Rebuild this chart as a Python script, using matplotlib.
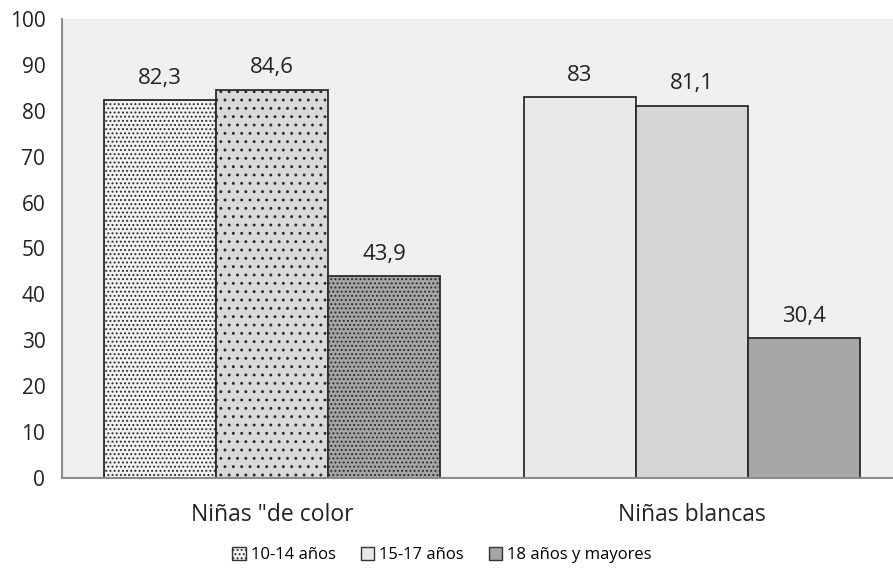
import matplotlib.pyplot as plt
from matplotlib.patches import Patch
import numpy as np

plt.rcParams['font.family'] = ['Open Sans', 'DejaVu Sans']
plt.rcParams['hatch.linewidth'] = 0.9

# Data
categories = ['Niñas "de color', 'Niñas blancas']
series = ['10-14 años', '15-17 años', '18 años y mayores']
values = [
    [82.3, 83.0],   # 10-14
    [84.6, 81.1],   # 15-17
    [43.9, 30.4],   # 18+
]
labels = [
    ['82,3', '83'],
    ['84,6', '81,1'],
    ['43,9', '30,4'],
]

# first group is drawn with dot patterns, second group plain
fills_pat = ['#f2f2f2', '#d9d9d9', '#a6a6a6']
hatches = ['....', '..', '....']
fills_plain = ['#e9e9e9', '#d6d6d6', '#a6a6a6']

fig = plt.figure(figsize=(8.93, 5.71), dpi=100)
ax = fig.add_axes([62 / 893, 93 / 571, 831 / 893, 459 / 571])
ax.set_facecolor('#f0f0f0')

x = np.arange(len(categories))
w = 0.8 / 3
for i in range(3):
    pos = x + (i - 1) * w
    for j in range(len(categories)):
        if j == 0:
            ax.bar(pos[j], values[i][j], w, color=fills_pat[i], hatch=hatches[i],
                   edgecolor='#2b2b2b', linewidth=1.3)
        else:
            ax.bar(pos[j], values[i][j], w, color=fills_plain[i],
                   edgecolor='#2b2b2b', linewidth=1.3)
        ax.text(pos[j], values[i][j] + 3.6, labels[i][j], ha='center', va='baseline',
                fontsize=16, color='#222222')

ax.set_ylim(0, 100)
ax.set_xlim(-0.5, 1.5 - 9 / 420)
ax.set_yticks(np.arange(0, 101, 10))
ax.set_xticks(x)
ax.set_xticklabels(categories, fontsize=16.5)
ax.tick_params(axis='y', length=0, labelsize=15, pad=12, colors='#222222')
ax.tick_params(axis='x', length=0, pad=18, colors='#222222')

for s in ['top', 'right']:
    ax.spines[s].set_visible(False)
ax.spines['left'].set_color('#8c8c8c')
ax.spines['left'].set_linewidth(1.5)
ax.spines['bottom'].set_color('#8c8c8c')
ax.spines['bottom'].set_linewidth(1.5)

handles = [
    Patch(facecolor=fills_pat[0], hatch='....', edgecolor='#333333', linewidth=1),
    Patch(facecolor=fills_plain[0], edgecolor='#333333', linewidth=1),
    Patch(facecolor=fills_plain[2], edgecolor='#333333', linewidth=1),
]
fig.legend(handles, series, loc='center', bbox_to_anchor=(442 / 893, 16 / 571), ncol=3,
           frameon=False, fontsize=12, handlelength=0.8, handleheight=0.8,
           handletextpad=0.3, columnspacing=1.5)

fig.savefig('out.png', dpi=100, facecolor='white')
